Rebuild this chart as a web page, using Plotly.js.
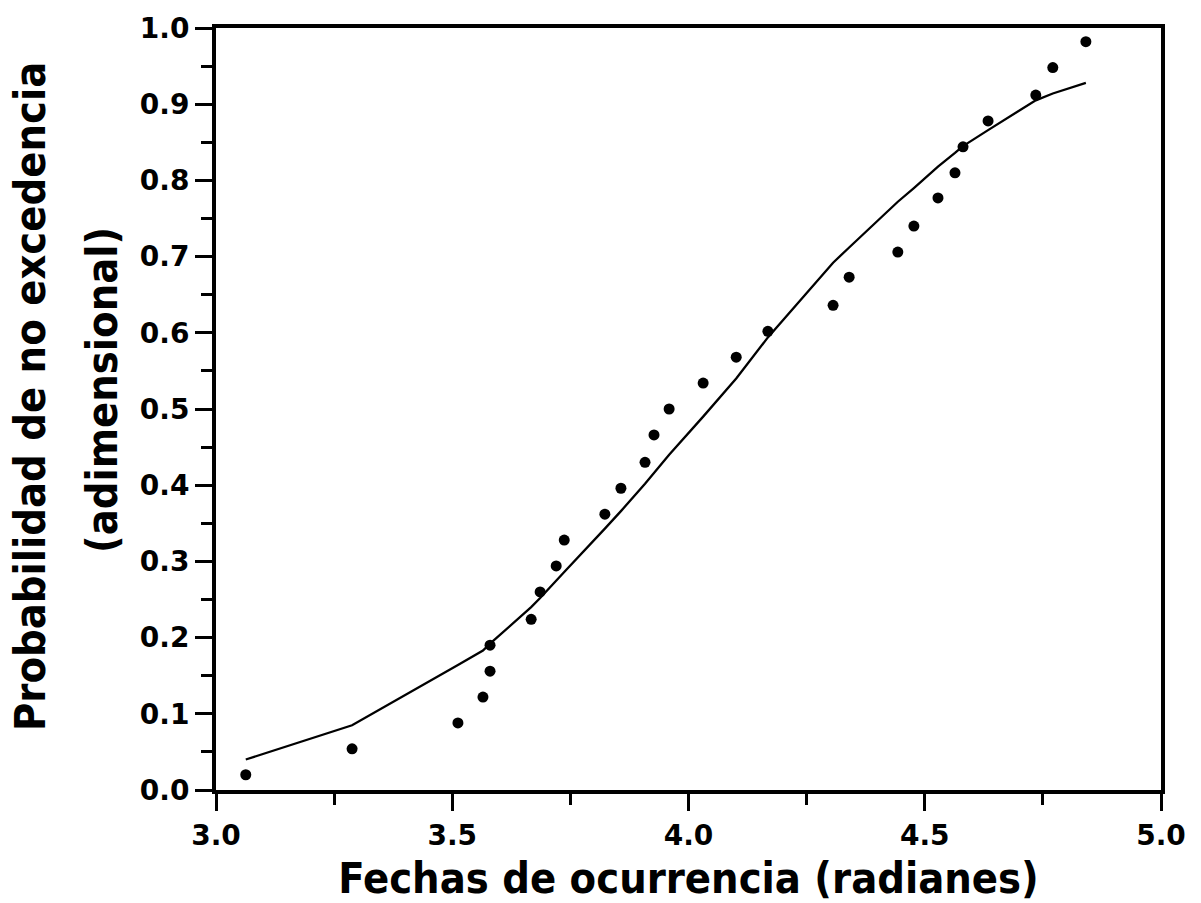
<!DOCTYPE html>
<html>
<head>
<meta charset="utf-8">
<script src="https://cdn.plot.ly/plotly-3.0.1.min.js"></script>
<style>html,body{margin:0;padding:0;background:#fff;}#chart{width:1201px;height:903px;}</style>
</head>
<body>
<div id="chart"></div>
<script>
// Observed points
const obsX = [3.063, 3.288, 3.512, 3.565, 3.580, 3.580, 3.667, 3.686, 3.720, 3.737,
              3.823, 3.857, 3.908, 3.927, 3.959, 4.031, 4.101, 4.168, 4.306, 4.340,
              4.443, 4.477, 4.528, 4.564, 4.581, 4.634, 4.735, 4.771, 4.841];
const obsY = [0.020, 0.054, 0.088, 0.122, 0.156, 0.190, 0.224, 0.260, 0.294, 0.328,
              0.362, 0.396, 0.430, 0.466, 0.500, 0.534, 0.568, 0.602, 0.636, 0.673,
              0.706, 0.740, 0.777, 0.810, 0.844, 0.878, 0.912, 0.948, 0.982];
// Fitted curve
const fitX = [3.063, 3.288, 3.512, 3.565, 3.580, 3.667, 3.686, 3.720, 3.737, 3.823,
              3.857, 3.908, 3.927, 3.959, 4.031, 4.101, 4.168, 4.306, 4.340, 4.443,
              4.477, 4.528, 4.564, 4.581, 4.634, 4.735, 4.771, 4.841];
const fitY = [0.040, 0.085, 0.164, 0.183, 0.192, 0.240, 0.252, 0.274, 0.286, 0.343,
              0.366, 0.402, 0.416, 0.440, 0.490, 0.540, 0.594, 0.692, 0.712, 0.772,
              0.790, 0.818, 0.836, 0.845, 0.866, 0.905, 0.914, 0.928];

const xTickVals = [3.0, 3.5, 4.0, 4.5, 5.0];
const xTickText = ['3.0', '3.5', '4.0', '4.5', '5.0'];
const yTickVals = [0, 0.1, 0.2, 0.3, 0.4, 0.5, 0.6, 0.7, 0.8, 0.9, 1.0];
const yTickText = ['0.0', '0.1', '0.2', '0.3', '0.4', '0.5', '0.6', '0.7', '0.8', '0.9', '1.0'];
const xTitle = 'Fechas de ocurrencia (radianes)';
const yTitle1 = 'Probabilidad de no excedencia';
const yTitle2 = '(adimensional)';

const tickFont = {family: 'DejaVu Sans, Verdana, sans-serif', size: 28, color: '#000', weight: 'bold'};
const titleFont = {family: 'DejaVu Sans Condensed, DejaVu Sans, sans-serif', size: 43, color: '#000', weight: 'bold'};

const traces = [
  {x: fitX, y: fitY, mode: 'lines', type: 'scatter', line: {color: '#000', width: 2.3}, hoverinfo: 'skip'},
  {x: obsX, y: obsY, mode: 'markers', type: 'scatter', marker: {color: '#000', size: 11}}
];

const layout = {
  width: 1201, height: 903,
  margin: {l: 216, r: 40, t: 28, b: 113},
  paper_bgcolor: '#fff', plot_bgcolor: '#fff',
  showlegend: false,
  xaxis: {
    range: [3.0, 5.0], tickvals: xTickVals, ticktext: xTickText,
    ticks: 'outside', ticklen: 17, tickwidth: 3, tickcolor: '#000',
    minor: {dtick: 0.25, ticks: 'outside', ticklen: 11, tickwidth: 3, tickcolor: '#000', showgrid: false},
    showline: true, linewidth: 4, linecolor: '#000', mirror: true,
    showgrid: false, zeroline: false,
    tickfont: tickFont,
    title: {text: xTitle, font: titleFont, standoff: 17}
  },
  yaxis: {
    range: [0, 1.0], tickvals: yTickVals, ticktext: yTickText,
    ticks: 'outside', ticklen: 17, tickwidth: 3, tickcolor: '#000',
    minor: {dtick: 0.05, ticks: 'outside', ticklen: 11, tickwidth: 3, tickcolor: '#000', showgrid: false},
    showline: true, linewidth: 4, linecolor: '#000', mirror: true,
    showgrid: false, zeroline: false,
    tickfont: tickFont
  },
  annotations: [
    {text: yTitle1, xref: 'paper', yref: 'paper', x: -216/945 + 30/945, y: (790-397)/762,
     xanchor: 'center', yanchor: 'middle', textangle: -90, showarrow: false, font: titleFont},
    {text: yTitle2, xref: 'paper', yref: 'paper', x: -216/945 + 102/945, y: (790-390)/762,
     xanchor: 'center', yanchor: 'middle', textangle: -90, showarrow: false, font: titleFont}
  ]
};

Plotly.newPlot('chart', traces, layout, {displayModeBar: false, staticPlot: true});
</script>
</body>
</html>
